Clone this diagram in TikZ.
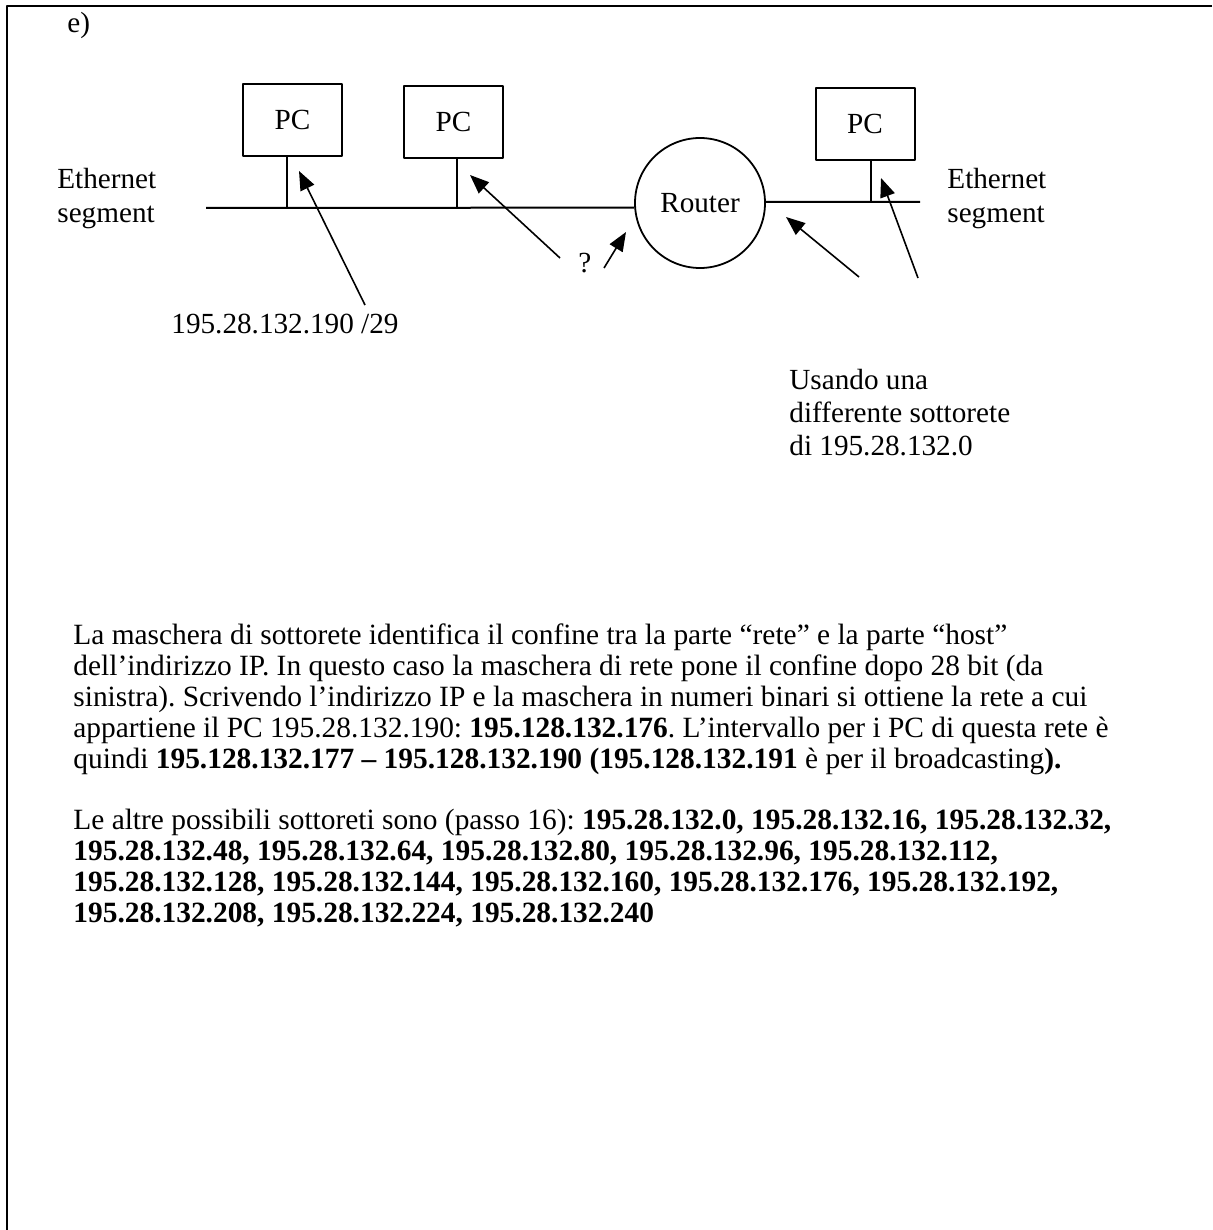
\documentclass[tikz,border=0pt]{standalone}
\usepackage{fontspec}
\setmainfont{Liberation Serif}
\usetikzlibrary{arrows.meta}
\frenchspacing
\newcommand{\dgfont}{\fontsize{14.6}{17}\selectfont}
\newcommand{\txfont}{\fontsize{14.7}{15.5}\selectfont}
\begin{document}
\begin{tikzpicture}[x=0.5pt,y=-0.5pt,>={Triangle[length=9.5pt,width=7.5pt]},line join=round,
	pc/.style={draw,line width=1pt,minimum width=49.5pt,minimum height=36pt,inner sep=0pt,font=\dgfont},
	lbl/.style={anchor=base west,inner sep=0pt,font=\dgfont},
	txt/.style={anchor=base west,inner sep=0pt,font=\txfont},
	bus/.style={line width=1pt},
	ptr/.style={->,line width=.8pt}]
	\useasboundingbox (0,0) rectangle (1212,1230);
	\draw[line width=1.3pt] (1212,6) -| (7,1230);
	\node[lbl] (part) at (67,33) {e)};
	
	\node[pc] (pc1) at (292.5,120) {PC};
	\node[pc] (pc2) at (453.5,122) {PC};
	\node[pc] (pc3) at (865,124) {PC};
	\node[draw,circle,line width=.9pt,minimum size=65pt,inner sep=0pt,font=\dgfont] (rt) at (700,203) {Router};
	
	\coordinate (lb) at (206,208);
	\coordinate (rb) at (920,202);
	\coordinate (t1) at (287,208);
	\coordinate (t2) at (457,208);
	\coordinate (t3) at (871,202);
	\draw[bus] (lb) -- (rt.184) (rt.1) -- (rb);
	\draw[bus] (t1 |- pc1.south) -- (t1) (t2 |- pc2.south) -- (t2) (t3 |- pc3.south) -- (t3);
	
	\node[lbl] (eth1) at (57,189) {Ethernet};
	\node[lbl] (seg1) at (57,223) {segment};
	\node[lbl] (eth2) at (947,189) {Ethernet};
	\node[lbl] (seg2) at (947,223) {segment};
	\node[lbl] (ip) at (171,333) {195.28.132.190 /29};
	\node[lbl] (qm) at (578,272) {?};
	\node[lbl] (us1) at (789,389) {Usando una};
	\node[lbl] (us2) at (789,422) {differente sottorete};
	\node[lbl] (us3) at (789,455) {di 195.28.132.0};
	
	\coordinate (a1) at (365,305); \coordinate (b1) at (299,171);
	\coordinate (a2) at (560,258); \coordinate (b2) at (470,175);
	\coordinate (a3) at (604,268); \coordinate (b3) at (626,232);
	\coordinate (a4) at (859,277); \coordinate (b4) at (786,217);
	\coordinate (a5) at (918,278); \coordinate (b5) at (881,178);
	\foreach \i in {1,...,5} \draw[ptr] (a\i) -- (b\i);
	
	\foreach \t [count=\i from 0] in {
		{La maschera di sottorete identifica il confine tra la parte “rete” e la parte “host”},
		{dell’indirizzo IP. In questo caso la maschera di rete pone il confine dopo 28 bit (da},
		{sinistra). Scrivendo l’indirizzo IP e la maschera in numeri binari si ottiene la rete a cui},
		{appartiene il PC 195.28.132.190: \textbf{195.128.132.176}. L’intervallo per i PC di questa rete è},
		{quindi \textbf{195.128.132.177 – 195.128.132.190 (195.128.132.191} è per il broadcasting\textbf{).}}}
	\node[txt] (p1-\i) at (73,644+31*\i) {\t};
	\foreach \t [count=\i from 0] in {
		{Le altre possibili sottoreti sono (passo 16): \textbf{195.28.132.0, 195.28.132.16, 195.28.132.32,}},
		{\textbf{195.28.132.48, 195.28.132.64, 195.28.132.80, 195.28.132.96, 195.28.132.112,}},
		{\textbf{195.28.132.128, 195.28.132.144, 195.28.132.160, 195.28.132.176, 195.28.132.192,}},
		{\textbf{195.28.132.208, 195.28.132.224, 195.28.132.240}}}
	\node[txt] (p2-\i) at (73,829+31*\i) {\t};
\end{tikzpicture}
\end{document}
